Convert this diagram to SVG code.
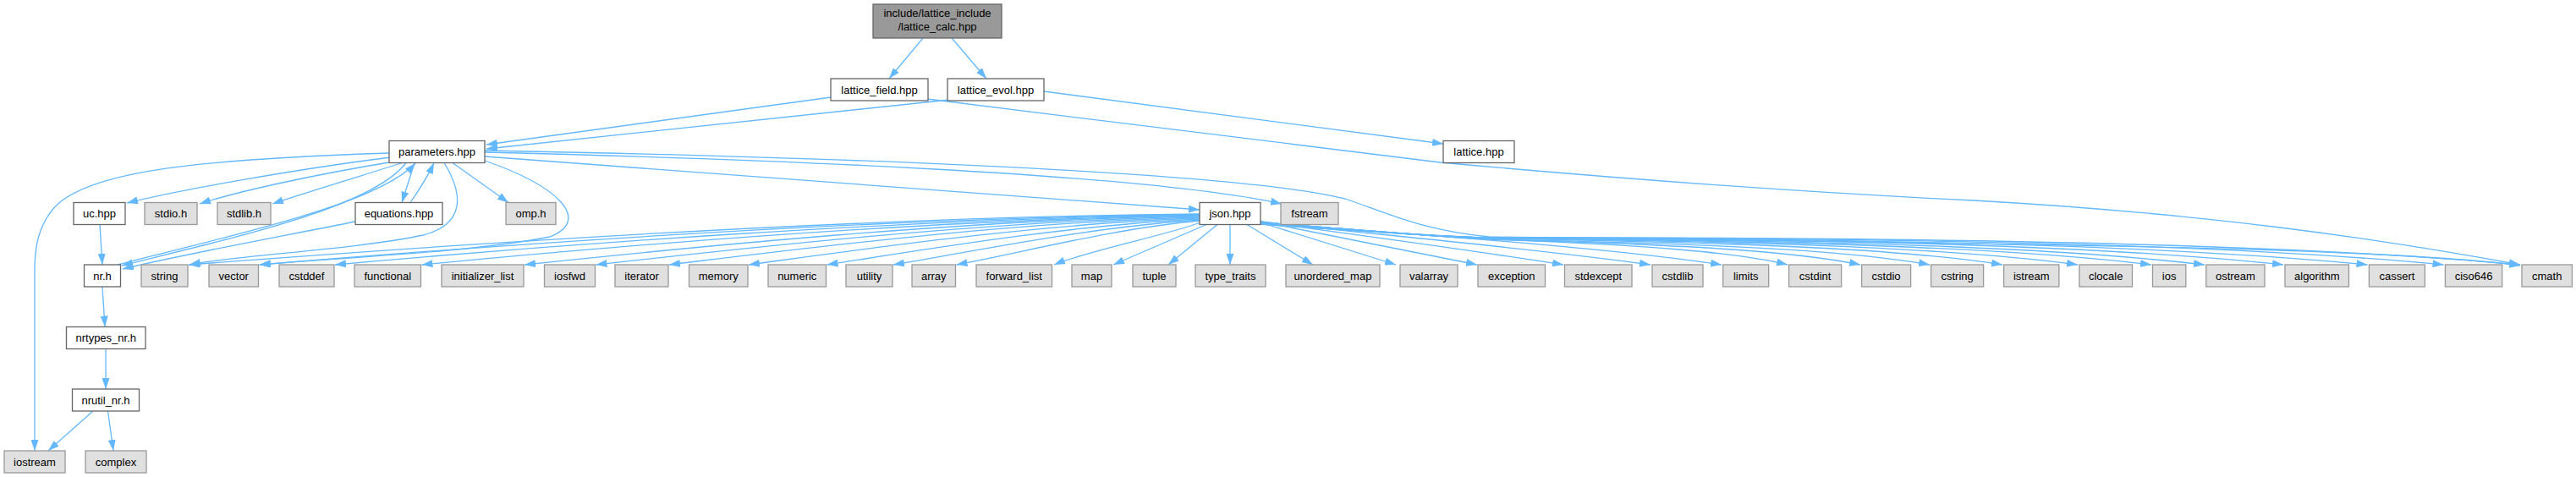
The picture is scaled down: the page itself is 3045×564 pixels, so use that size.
<svg xmlns="http://www.w3.org/2000/svg" width="3045" height="564" viewBox="0 0 3045 564">
<style>
.n rect{fill:#ffffff;stroke:#666666;stroke-width:1.3}
.x rect{fill:#e0e0e0;stroke:#999999;stroke-width:1.3}
.r rect{fill:#999999;stroke:#666666;stroke-width:1.3}
text{font-family:"Liberation Sans",Arial,Helvetica,sans-serif;font-size:13px;fill:#000000;text-anchor:middle}
#edges path{fill:none;stroke:#63b8ff;stroke-width:1.3;marker-end:url(#ah)}
</style>
<defs>
<marker id="ah" markerUnits="userSpaceOnUse" viewBox="0 0 13 9" markerWidth="13" markerHeight="9" refX="13" refY="4.5" orient="auto">
<path d="M0,0 L13,4.5 L0,9 z" fill="#63b8ff"/>
</marker>
</defs>
<rect width="3045" height="564" fill="#ffffff"/>
<g id="edges">
<path d="M1091,45 L1051,93"/>
<path d="M1125,45 L1166,93"/>
<path d="M982,115 C800,140 650,160 575,171"/>
<path d="M1122,118 C900,140 700,162 575,176"/>
<path d="M1096,117 L1702,192 C1900,210 2100,226 2333,237 C2600,252 2800,280 2979,313"/>
<path d="M1234,108 L1706,170"/>
<path d="M460,181 C250,188 100,200 62,248 C46,268 41,290 41,320 L41,533"/>
<path d="M462,186 C350,200 210,225 150,240"/>
<path d="M466,191 C380,205 285,225 236,241"/>
<path d="M476,192.5 C420,210 360,228 322,241"/>
<path d="M480,192.5 C440,245 280,280 144,314"/>
<path d="M139,313 C265,280 445,243 491,193"/>
<path d="M420,262 C330,280 220,300 145,318"/>
<path d="M118,265.5 L121,313"/>
<path d="M490,192.5 L475,239.5"/>
<path d="M485,239.5 C495,225 505,210 513,192.5"/>
<path d="M535,192.5 L601,239.5"/>
<path d="M525,192.5 C548,230 550,265 500,278 C420,295 280,302 224,313"/>
<path d="M573,190 C660,220 700,260 650,280 C560,298 400,305 307,313"/>
<path d="M573,185 L1418,248"/>
<path d="M573,180 C900,188 1350,205 1515,241"/>
<path d="M573,178 C900,184 1450,200 1590,235 C1640,252 1680,272 1760,280 C2300,288 2800,290 2979,314"/>
<path d="M121,339 L124,386.5"/>
<path d="M125,412.5 L125,460"/>
<path d="M110,486 L57,533"/>
<path d="M127.5,486 L134,533"/>
<path d="M1418,253 C1000,257 522,290 223,313"/>
<path d="M1418,253.5 C1029,258 584,290 306.5,313"/>
<path d="M1418,254 C1060,259 651,290 396,313"/>
<path d="M1418,254.5 C1096,260 728,291 498.5,313"/>
<path d="M1418,255 C1139,260 819,292 620,313"/>
<path d="M1418,256 C1168,261 883,293 704.5,313"/>
<path d="M1418,257 C1198,262 948,294 791,313"/>
<path d="M1418,258 C1231,264 1018,295 885,313"/>
<path d="M1418,259 C1264,266 1088,296 977.5,313"/>
<path d="M1418,260 C1291,268 1146,298 1056,313"/>
<path d="M1418,261 C1317,270 1202,300 1130.5,313"/>
<path d="M1419,263 C1380,278 1290,295 1246,313"/>
<path d="M1426,265.5 L1316,313"/>
<path d="M1439,265.5 L1381,313"/>
<path d="M1454,265.5 L1454,313"/>
<path d="M1474,265.5 L1552,313"/>
<path d="M1490,263 L1650,313"/>
<path d="M1490,262 L1746,313"/>
<path d="M1490,262 C1560,272 1700,290 1848,313"/>
<path d="M1490,262 C1600,275 1800,292 1951,313"/>
<path d="M1490,263 C1650,276 1880,290 2035,313"/>
<path d="M1490,263 C1600,271 1700,280 1760,283 C1950,290 2050,298 2113,313"/>
<path d="M1490,263 C1600,271 1700,280 1760,283 C1990,289 2120,297 2199,313"/>
<path d="M1490,263 C1600,271 1700,280 1760,283 C2040,288 2190,297 2281,313"/>
<path d="M1490,263 C1600,271 1700,280 1760,282 C2090,287 2260,296 2367,313"/>
<path d="M1490,264 C1600,272 1700,280 1760,282 C2140,286 2330,296 2456,313"/>
<path d="M1490,264 C1600,272 1700,280 1760,282 C2190,285 2400,296 2543,313"/>
<path d="M1490,264 C1600,272 1700,280 1760,282 C2230,284 2450,295 2606,313"/>
<path d="M1490,264 C1600,272 1700,280 1760,281 C2280,283 2530,295 2699,313"/>
<path d="M1490,265 C1600,273 1700,280 1760,281 C2330,282 2610,295 2798.5,313"/>
<path d="M1490,265 C1600,273 1700,280 1760,281 C2380,281 2690,294 2888.5,313"/>
<path d="M1490,265 C1600,273 1700,280 1760,281 C2430,280 2770,294 2979,313"/>
</g>
<g id="node_root" class="r"><rect x="1032" y="5" width="152" height="40"/><text x="1108" y="20">include/lattice_include</text><text x="1108" y="36">/lattice_calc.hpp</text></g>
<g id="node_lattice_field" class="n"><rect x="982" y="93" width="115" height="26"/><text x="1039.5" y="110.5">lattice_field.hpp</text></g>
<g id="node_lattice_evol" class="n"><rect x="1120" y="93" width="114" height="26"/><text x="1177" y="110.5">lattice_evol.hpp</text></g>
<g id="node_parameters" class="n"><rect x="460" y="166.5" width="113" height="26"/><text x="516.5" y="184">parameters.hpp</text></g>
<g id="node_lattice" class="n"><rect x="1706" y="166.5" width="84" height="26"/><text x="1748" y="184">lattice.hpp</text></g>
<g id="node_uc" class="n"><rect x="87" y="239.5" width="61" height="26"/><text x="117.5" y="257">uc.hpp</text></g>
<g id="node_stdio" class="x"><rect x="171" y="239.5" width="62" height="26"/><text x="202" y="257">stdio.h</text></g>
<g id="node_stdlib" class="x"><rect x="257" y="239.5" width="63" height="26"/><text x="288.5" y="257">stdlib.h</text></g>
<g id="node_equations" class="n"><rect x="420" y="239.5" width="103" height="26"/><text x="471.5" y="257">equations.hpp</text></g>
<g id="node_omp" class="x"><rect x="598" y="239.5" width="59" height="26"/><text x="627.5" y="257">omp.h</text></g>
<g id="node_json" class="n"><rect x="1418" y="239.5" width="72" height="26"/><text x="1454" y="257">json.hpp</text></g>
<g id="node_fstream" class="x"><rect x="1514" y="239.5" width="68" height="26"/><text x="1548" y="257">fstream</text></g>
<g id="node_nr" class="n"><rect x="99.5" y="313" width="43" height="26"/><text x="121" y="330.5">nr.h</text></g>
<g id="node_string" class="x"><rect x="167" y="313" width="55" height="26"/><text x="194.5" y="330.5">string</text></g>
<g id="node_vector" class="x"><rect x="247" y="313" width="58.5" height="26"/><text x="276.25" y="330.5">vector</text></g>
<g id="node_cstddef" class="x"><rect x="330" y="313" width="65" height="26"/><text x="362.5" y="330.5">cstddef</text></g>
<g id="node_functional" class="x"><rect x="419" y="313" width="78.5" height="26"/><text x="458.25" y="330.5">functional</text></g>
<g id="node_initializer_list" class="x"><rect x="522" y="313" width="97" height="26"/><text x="570.5" y="330.5">initializer_list</text></g>
<g id="node_iosfwd" class="x"><rect x="643.5" y="313" width="60" height="26"/><text x="673.5" y="330.5">iosfwd</text></g>
<g id="node_iterator" class="x"><rect x="727" y="313" width="63" height="26"/><text x="758.5" y="330.5">iterator</text></g>
<g id="node_memory" class="x"><rect x="814.5" y="313" width="69.5" height="26"/><text x="849.25" y="330.5">memory</text></g>
<g id="node_numeric" class="x"><rect x="908" y="313" width="68.5" height="26"/><text x="942.25" y="330.5">numeric</text></g>
<g id="node_utility" class="x"><rect x="1000" y="313" width="55" height="26"/><text x="1027.5" y="330.5">utility</text></g>
<g id="node_array" class="x"><rect x="1078" y="313" width="51.5" height="26"/><text x="1103.75" y="330.5">array</text></g>
<g id="node_forward_list" class="x"><rect x="1154" y="313" width="89.5" height="26"/><text x="1198.75" y="330.5">forward_list</text></g>
<g id="node_map" class="x"><rect x="1267" y="313" width="47" height="26"/><text x="1290.5" y="330.5">map</text></g>
<g id="node_tuple" class="x"><rect x="1339" y="313" width="51" height="26"/><text x="1364.5" y="330.5">tuple</text></g>
<g id="node_type_traits" class="x"><rect x="1413" y="313" width="83" height="26"/><text x="1454.5" y="330.5">type_traits</text></g>
<g id="node_unordered_map" class="x"><rect x="1520" y="313" width="111" height="26"/><text x="1575.5" y="330.5">unordered_map</text></g>
<g id="node_valarray" class="x"><rect x="1655" y="313" width="68" height="26"/><text x="1689" y="330.5">valarray</text></g>
<g id="node_exception" class="x"><rect x="1747" y="313" width="79.5" height="26"/><text x="1786.75" y="330.5">exception</text></g>
<g id="node_stdexcept" class="x"><rect x="1849.5" y="313" width="79.5" height="26"/><text x="1889.25" y="330.5">stdexcept</text></g>
<g id="node_cstdlib" class="x"><rect x="1953" y="313" width="60" height="26"/><text x="1983" y="330.5">cstdlib</text></g>
<g id="node_limits" class="x"><rect x="2036.7" y="313" width="54" height="26"/><text x="2063.7" y="330.5">limits</text></g>
<g id="node_cstdint" class="x"><rect x="2114.6" y="313" width="62" height="26"/><text x="2145.6" y="330.5">cstdint</text></g>
<g id="node_cstdio" class="x"><rect x="2200.6" y="313" width="58" height="26"/><text x="2229.6" y="330.5">cstdio</text></g>
<g id="node_cstring" class="x"><rect x="2282.6" y="313" width="62" height="26"/><text x="2313.6" y="330.5">cstring</text></g>
<g id="node_istream" class="x"><rect x="2368.6" y="313" width="65.3" height="26"/><text x="2401.25" y="330.5">istream</text></g>
<g id="node_clocale" class="x"><rect x="2457.9" y="313" width="62.6" height="26"/><text x="2489.2" y="330.5">clocale</text></g>
<g id="node_ios" class="x"><rect x="2544.5" y="313" width="39.3" height="26"/><text x="2564.15" y="330.5">ios</text></g>
<g id="node_ostream" class="x"><rect x="2607.8" y="313" width="69.2" height="26"/><text x="2642.4" y="330.5">ostream</text></g>
<g id="node_algorithm" class="x"><rect x="2701" y="313" width="75.5" height="26"/><text x="2738.75" y="330.5">algorithm</text></g>
<g id="node_cassert" class="x"><rect x="2800.4" y="313" width="66" height="26"/><text x="2833.4" y="330.5">cassert</text></g>
<g id="node_ciso646" class="x"><rect x="2890.4" y="313" width="67.3" height="26"/><text x="2924.05" y="330.5">ciso646</text></g>
<g id="node_cmath" class="x"><rect x="2981" y="313" width="59.4" height="26"/><text x="3010.7" y="330.5">cmath</text></g>
<g id="node_nrtypes_nr" class="n"><rect x="78.5" y="386.5" width="93.5" height="26"/><text x="125.25" y="404">nrtypes_nr.h</text></g>
<g id="node_nrutil_nr" class="n"><rect x="85.5" y="460" width="79" height="26"/><text x="125" y="477.5">nrutil_nr.h</text></g>
<g id="node_iostream" class="x"><rect x="5" y="533" width="72" height="26"/><text x="41" y="550.5">iostream</text></g>
<g id="node_complex" class="x"><rect x="101" y="533" width="72" height="26"/><text x="137" y="550.5">complex</text></g>
</svg>
